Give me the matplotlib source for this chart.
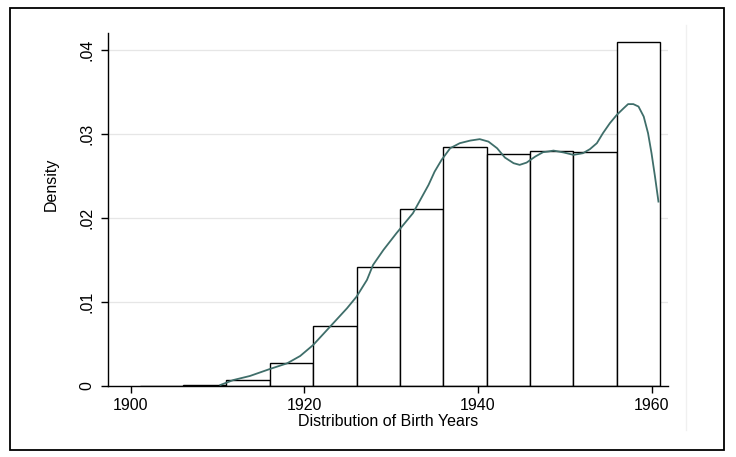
import matplotlib
matplotlib.use('Agg')
from matplotlib import pyplot as plt
from matplotlib.patches import Rectangle
from matplotlib.lines import Line2D

plt.rcParams['font.family'] = ['Liberation Sans', 'DejaVu Sans']

# histogram: left edges of the 5-year bins and their densities
bin_left = [1901, 1906, 1911, 1916, 1921, 1926, 1931, 1936, 1941, 1946, 1951, 1956]
bin_width = 5
density = [0.00003, 0.0001, 0.00068, 0.0027, 0.00714, 0.01417, 0.02107,
           0.02849, 0.02758, 0.0280, 0.02789, 0.0409]

# kernel density curve
kde_year = [1910.3, 1911.8, 1913.7, 1916.0, 1918.0, 1919.5, 1921.0, 1922.6,
            1924.9, 1926.0, 1927.2, 1927.9, 1929.1, 1930.6, 1932.5, 1934.3,
            1935.0, 1935.8, 1936.8, 1937.9, 1939.1, 1940.2, 1941.2, 1942.2,
            1943.1, 1944.1, 1944.8, 1945.6, 1946.6, 1947.5, 1948.1, 1948.7,
            1949.9, 1951.0, 1952.1, 1952.9, 1953.7, 1954.4, 1955.2, 1956.0,
            1956.8, 1957.3, 1957.9, 1958.5, 1959.1, 1959.6, 1960.0, 1960.4,
            1960.8]
kde_dens = [0.00012, 0.00071, 0.00119, 0.00202, 0.0027, 0.00357, 0.00488, 0.00667,
            0.00925, 0.01063, 0.01262, 0.0144, 0.01619, 0.01818, 0.02056, 0.02393,
            0.02551, 0.0269, 0.0283, 0.02889, 0.0292, 0.02937, 0.02908, 0.02829,
            0.02718, 0.02651, 0.02631, 0.02658, 0.0273, 0.02782, 0.0279, 0.02801,
            0.02778, 0.0275, 0.0277, 0.02818, 0.02889, 0.03008, 0.03127, 0.03226,
            0.03306, 0.03354, 0.03354, 0.03325, 0.03206, 0.03008, 0.0277, 0.02492,
            0.02194]

x_ticks = [1900, 1920, 1940, 1960]
y_ticks = [0, 0.01, 0.02, 0.03, 0.04]
y_tick_labels = ['0', '.01', '.02', '.03', '.04']

fig = plt.figure(figsize=(7.36, 4.57), dpi=100)
ax = fig.add_axes([108 / 736, 1 - 386 / 457, 560 / 736, 353 / 457])

# light horizontal grid
for y in y_ticks[1:]:
    ax.axhline(y, color='#e6e6e6', lw=0.9, zorder=0)

ax.bar(bin_left, density, width=bin_width, align='edge', facecolor='white',
       edgecolor='black', linewidth=1.0, zorder=2)
ax.plot(kde_year, kde_dens, color='#3f6e6a', lw=1.3, zorder=3,
        solid_joinstyle='round')

ax.set_xlim(1897.35, 1961.9)
ax.set_ylim(0, 0.0420)
ax.set_xticks(x_ticks)
ax.set_xticklabels([str(v) for v in x_ticks])
ax.set_yticks(y_ticks)
ax.set_yticklabels(y_tick_labels, rotation=90, va='center')

for s in ['top', 'right']:
    ax.spines[s].set_visible(False)
for s in ['left', 'bottom']:
    ax.spines[s].set_linewidth(1.0)
ax.tick_params(direction='out', length=5, width=1.0, labelsize=11.5)
ax.tick_params(axis='x', pad=4)
ax.tick_params(axis='y', pad=5)

ax.set_xlabel('Distribution of Birth Years', fontsize=11.5, labelpad=0)
ax.set_ylabel('Density', fontsize=11.5)
ax.yaxis.set_label_coords(-0.0875, 0.572)

# outer frame and faint stray line
fig.add_artist(Line2D([686 / 736, 686 / 736], [1 - 430 / 457, 1 - 25 / 457],
                      transform=fig.transFigure, color='#f0f0f0', lw=1))
fig.add_artist(Rectangle((10 / 736, 1 - 450 / 457), 714 / 736, 442 / 457,
                         transform=fig.transFigure, fill=False,
                         edgecolor='black', lw=1.3))

fig.savefig('out.png', dpi=100)
